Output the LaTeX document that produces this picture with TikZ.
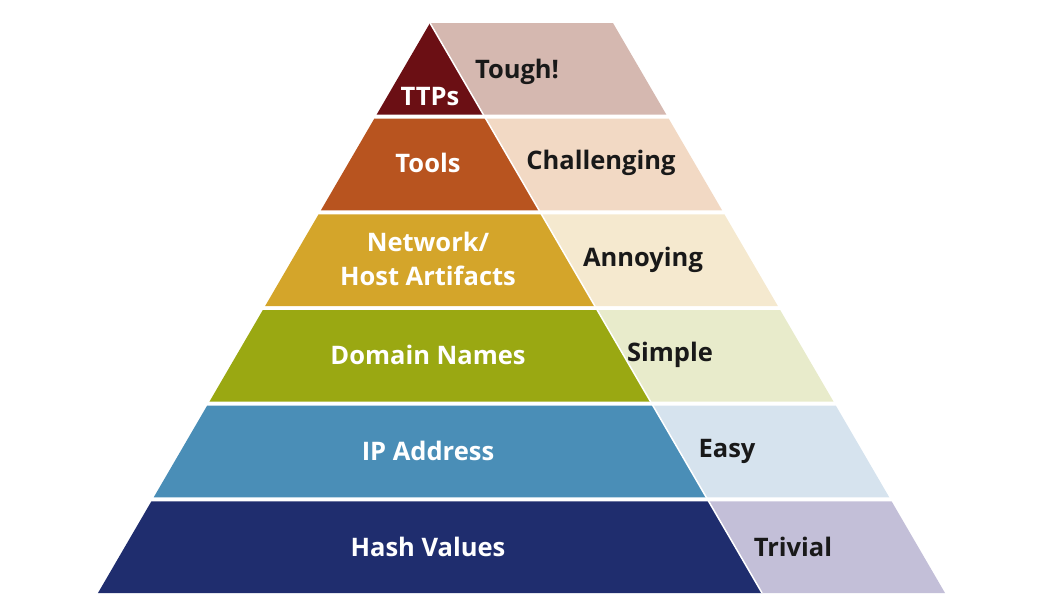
\documentclass[tikz,border=0pt]{standalone}
\usepackage{fontspec}
\setmainfont{Open Sans}
\definecolor{cttp}{HTML}{6B0F14}
\definecolor{ltough}{HTML}{D5B8B0}
\definecolor{ctool}{HTML}{B8541F}
\definecolor{lchal}{HTML}{F2D9C4}
\definecolor{cnet}{HTML}{D4A52A}
\definecolor{lann}{HTML}{F5E9CF}
\definecolor{cdom}{HTML}{9AA812}
\definecolor{lsim}{HTML}{E8EBCB}
\definecolor{cip}{HTML}{4A8EB7}
\definecolor{leasy}{HTML}{D6E3EE}
\definecolor{chash}{HTML}{1F2D6E}
\definecolor{ltriv}{HTML}{C3BFD8}
\tikzset{
  wlabel/.style={text=white,font=\bfseries\fontsize{25.5}{34}\selectfont,align=center,inner sep=0pt},
  dlabel/.style={text=black!90,font=\bfseries\fontsize{25.5}{34}\selectfont,align=center,inner sep=0pt}
}
\begin{document}
\begin{tikzpicture}[x=1pt,y=-1pt]
\useasboundingbox (0,0) rectangle (1055,614);
\def\k{0.5825}
\foreach \i/\ca/\cb in {0/cttp/ltough,1/ctool/lchal,2/cnet/lann,3/cdom/lsim,4/cip/leasy,5/chash/ltriv}{
  \pgfmathsetmacro\ya{23+\i*95.67}
  \pgfmathsetmacro\yb{\ya+91.67}
  \pgfmathsetmacro\la{430-\k*(\ya-23)}
  \pgfmathsetmacro\lb{430-\k*(\yb-23)}
  \pgfmathsetmacro\da{430+\k*(\ya-23)}
  \pgfmathsetmacro\db{430+\k*(\yb-23)}
  \pgfmathsetmacro\ra{613+\k*(\ya-23)}
  \pgfmathsetmacro\rb{613+\k*(\yb-23)}
  \fill[\ca] (\la,\ya) -- (\da,\ya) -- (\db,\yb) -- (\lb,\yb) -- cycle;
  \fill[\cb] (\da,\ya) -- (\ra,\ya) -- (\rb,\yb) -- (\db,\yb) -- cycle;
}
\draw[white,line width=1.5pt] (430,23) -- ({430+\k*570},593);
\node[wlabel] (ttp) at (430,97) {TTPs};
\node[dlabel] (tough) at (517,72) {Tough!};
\node[wlabel] (tools) at (428,163) {Tools};
\node[dlabel] (chal) at (601,163) {Challenging};
\node[wlabel] (net) at (428,259) {Network/\\Host Artifacts};
\node[dlabel] (ann) at (643,260) {Annoying};
\node[wlabel] (dom) at (428,355) {Domain Names};
\node[dlabel] (sim) at (670,355) {Simple};
\node[wlabel] (ip) at (428,451) {IP Address};
\node[dlabel] (easy) at (727,451) {Easy};
\node[wlabel] (hash) at (428,547) {Hash Values};
\node[dlabel] (triv) at (793,547) {Trivial};
\end{tikzpicture}
\end{document}
